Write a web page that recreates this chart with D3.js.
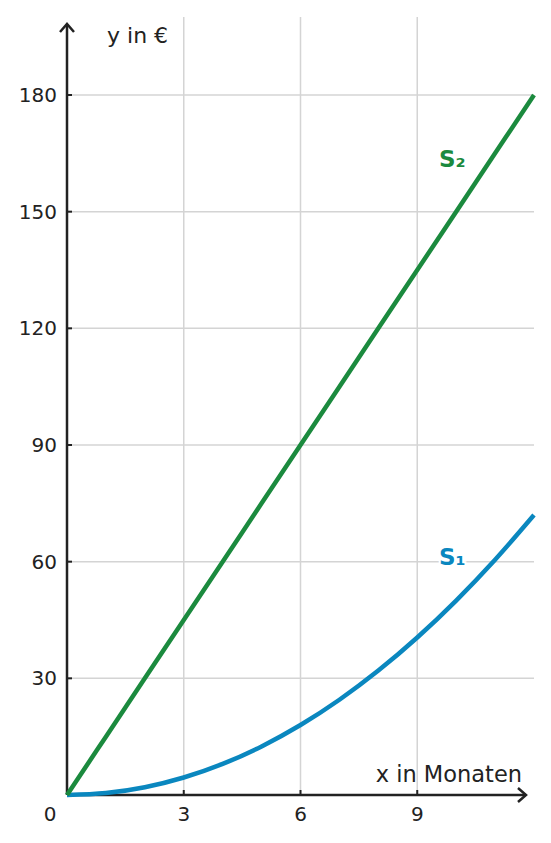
<!DOCTYPE html>
<html>
<head>
<meta charset="utf-8">
<script src="https://cdn.jsdelivr.net/npm/d3@7"></script>
<style>
  body { margin: 0; background: #fff; }
  svg { display: block; font-family: "DejaVu Sans", sans-serif; }
</style>
</head>
<body>
<div id="chart"></div>
<script>
// values
const months = [0, 1, 2, 3, 4, 5, 6, 7, 8, 9, 10, 11, 12];
const s1Values = [0, 0.5, 2, 4.5, 8, 12.5, 18, 24.5, 32, 40.5, 50, 60.5, 72];
const s2Values = [0, 15, 30, 45, 60, 75, 90, 105, 120, 135, 150, 165, 180];
const xTicks = [3, 6, 9];
const yTicks = [30, 60, 90, 120, 150, 180];
const seriesNames = ["S₁", "S₂"];
const seriesColors = ["#0a87bf", "#1b8a3e"];

const width = 551, height = 843;
const axisColor = "#222";
const gridColor = "#d4d4d4";

const x = d3.scaleLinear().domain([0, 12]).range([67, 534]);
const y = d3.scaleLinear().domain([0, 180]).range([795, 95]);

const svg = d3.select("#chart").append("svg")
	.attr("width", width)
	.attr("height", height);

// grid
svg.append("g").selectAll("line")
	.data(xTicks)
	.join("line")
	.attr("x1", d => x(d)).attr("x2", d => x(d))
	.attr("y1", 17).attr("y2", y(0))
	.attr("stroke", gridColor).attr("stroke-width", 1.5);

svg.append("g").selectAll("line")
	.data(yTicks)
	.join("line")
	.attr("x1", x(0)).attr("x2", x(12))
	.attr("y1", d => y(d)).attr("y2", d => y(d))
	.attr("stroke", gridColor).attr("stroke-width", 1.5);

// axes with arrow heads
const axes = svg.append("g").attr("stroke", axisColor).attr("fill", "none");
axes.append("line")
	.attr("x1", x(0)).attr("x2", 526)
	.attr("y1", y(0)).attr("y2", y(0))
	.attr("stroke-width", 2.5);
axes.append("path")
	.attr("d", `M${518},${y(0) - 7} L${526},${y(0)} L${518},${y(0) + 7}`)
	.attr("stroke-width", 2.5);
axes.append("line")
	.attr("x1", x(0)).attr("x2", x(0))
	.attr("y1", y(0)).attr("y2", 24)
	.attr("stroke-width", 2.5);
axes.append("path")
	.attr("d", `M${x(0) - 7},${32} L${x(0)},${24} L${x(0) + 7},${32}`)
	.attr("stroke-width", 2.5);

// tick marks
axes.selectAll(".xt")
	.data(xTicks)
	.join("line")
	.attr("x1", d => x(d)).attr("x2", d => x(d))
	.attr("y1", y(0)).attr("y2", y(0) - 5)
	.attr("stroke-width", 2);
axes.selectAll(".yt")
	.data(yTicks)
	.join("line")
	.attr("x1", x(0)).attr("x2", x(0) + 5)
	.attr("y1", d => y(d)).attr("y2", d => y(d))
	.attr("stroke-width", 2);

// tick labels
const labels = svg.append("g").attr("fill", axisColor).attr("font-size", 20);
labels.selectAll(".xl")
	.data(xTicks)
	.join("text")
	.attr("x", d => x(d))
	.attr("y", 821)
	.attr("text-anchor", "middle")
	.text(d => d);
labels.selectAll(".yl")
	.data(yTicks)
	.join("text")
	.attr("x", 57)
	.attr("y", d => y(d) + 7)
	.attr("text-anchor", "end")
	.text(d => d);
labels.append("text")
	.attr("x", 50).attr("y", 821)
	.attr("text-anchor", "middle")
	.text("0");

// axis titles
svg.append("text")
	.attr("x", 107).attr("y", 43)
	.attr("font-size", 22).attr("fill", axisColor)
	.text("y in €");
svg.append("text")
	.attr("x", 522).attr("y", 782)
	.attr("font-size", 22.5).attr("fill", axisColor)
	.attr("text-anchor", "end")
	.text("x in Monaten");

// curves
const series = [s1Values, s2Values];
const line = d3.line()
	.x((d, i) => x(months[i]))
	.y(d => y(d))
	.curve(d3.curveMonotoneX);

svg.append("g").selectAll("path")
	.data(series)
	.join("path")
	.attr("d", d => line(d))
	.attr("fill", "none")
	.attr("stroke", (d, i) => seriesColors[i])
	.attr("stroke-width", 4.5)
	.attr("stroke-linecap", "butt");

// series labels
const labelPos = [[9.9, 61.3], [9.9, 163.5]];
svg.append("g").selectAll("text")
	.data(seriesNames)
	.join("text")
	.attr("x", (d, i) => x(labelPos[i][0]))
	.attr("y", (d, i) => y(labelPos[i][1]) + 8)
	.attr("text-anchor", "middle")
	.attr("font-size", 23)
	.attr("font-weight", "bold")
	.attr("fill", (d, i) => seriesColors[i])
	.attr("stroke", "#fff")
	.attr("stroke-width", 4)
	.attr("paint-order", "stroke")
	.text(d => d);
</script>
</body>
</html>
